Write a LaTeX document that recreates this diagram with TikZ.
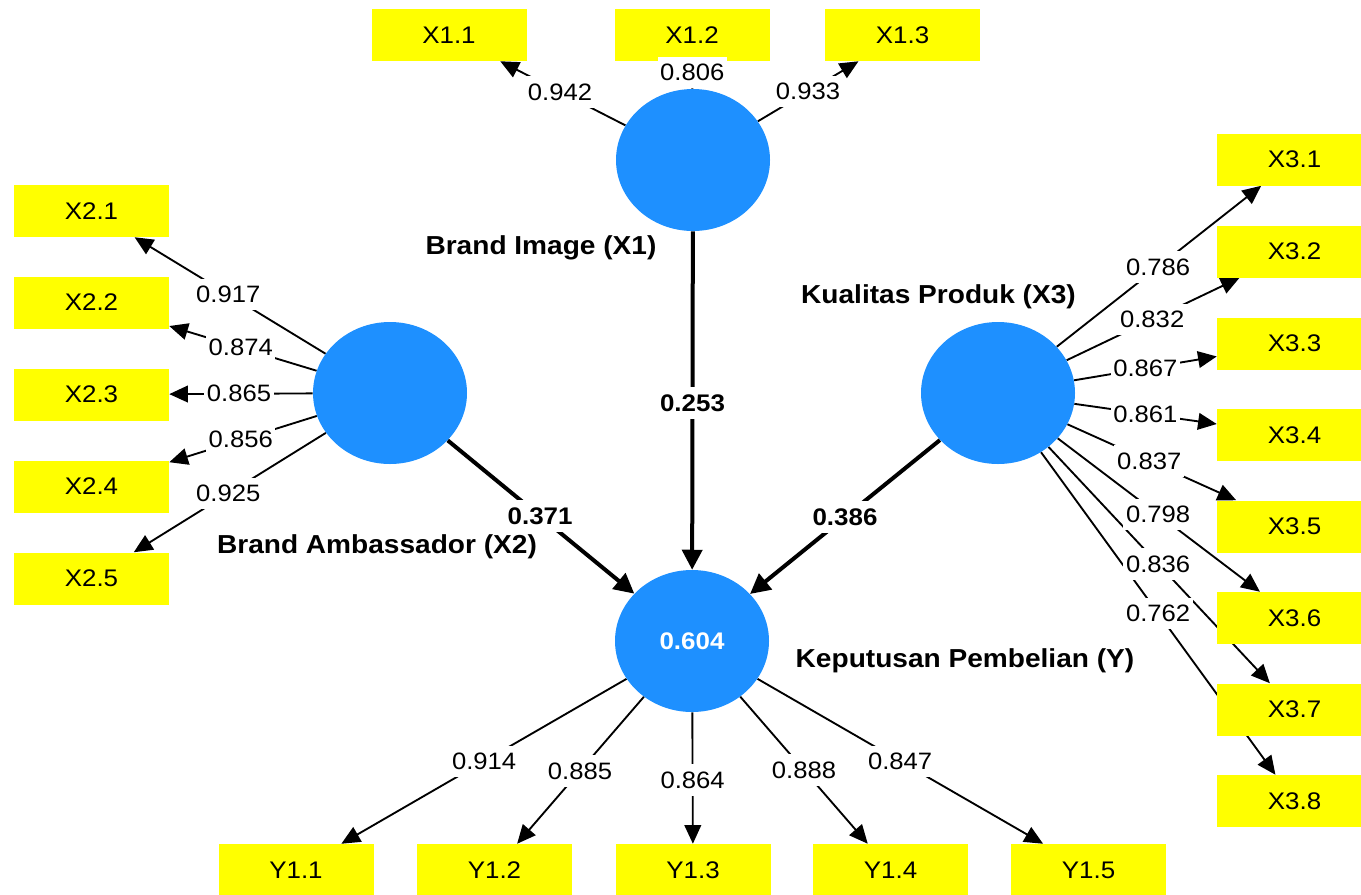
\documentclass[tikz,border=0pt]{standalone}
\usepackage{fontspec}
\setmainfont{Liberation Sans}[FakeStretch=1.08]
\usetikzlibrary{arrows.meta,shapes.geometric,backgrounds,calc}
\definecolor{lvblue}{RGB}{30,144,255}
\definecolor{indyellow}{RGB}{255,255,0}
\begin{document}
\begin{tikzpicture}[x=0.75pt,y=-0.75pt,
  ind/.style={rectangle, fill=indyellow, minimum width=116.25pt, minimum height=39pt, inner sep=0pt, font=\fontsize{18}{20}\selectfont},
  lv/.style={ellipse, fill=lvblue, minimum width=115.5pt, minimum height=106.5pt, inner sep=0pt},
  load/.style={line width=1.4pt, -{Triangle[length=14pt,width=12.5pt]}},
  pathc/.style={line width=3pt, -{Triangle[length=15pt,width=15pt]}},
  lab/.style={fill=white, inner xsep=2pt, inner ysep=5.5pt, font=\fontsize{17.8}{20}\selectfont},
  blab/.style={fill=white, inner xsep=2pt, inner ysep=5.5pt, font=\bfseries\fontsize{18}{20}\selectfont},
  lvname/.style={inner sep=0pt, font=\bfseries\fontsize{19.5}{22}\selectfont}]
\useasboundingbox (0,0) rectangle (1361,894);
% latent variables
\node[lv] (X1) at (693,160) {};
\node[lv] (X2) at (390,393) {};
\node[lv] (X3) at (998,393) {};
\node[lv, text=white, font=\bfseries\fontsize{18}{20}\selectfont] (Y) at (692,641) {0.604};
% names
\node[lvname] (nX1) at (541,248) {Brand Image (X1)};
\node[lvname] (nX2) at (377,547) {Brand Ambassador (X2)};
\node[lvname] (nX3) at (938.5,297) {Kualitas Produk (X3)};
\node[lvname] (nY) at (965,661) {Keputusan Pembelian (Y)};
% indicators
\node[ind] (X11) at (449,35) {X1.1};
\node[ind] (X12) at (692,35) {X1.2};
\node[ind] (X13) at (902.5,35) {X1.3};
\node[ind] (X21) at (91.5,211) {X2.1};
\node[ind] (X22) at (91.5,302.5) {X2.2};
\node[ind] (X23) at (91.5,394.5) {X2.3};
\node[ind] (X24) at (91.5,486.5) {X2.4};
\node[ind] (X25) at (91.5,578.5) {X2.5};
\node[ind] (X31) at (1294.5,159.5) {X3.1};
\node[ind] (X32) at (1294.5,251.5) {X3.2};
\node[ind] (X33) at (1294.5,343.5) {X3.3};
\node[ind] (X34) at (1294.5,435) {X3.4};
\node[ind] (X35) at (1294.5,526.5) {X3.5};
\node[ind] (X36) at (1294.5,618) {X3.6};
\node[ind] (X37) at (1294.5,709.5) {X3.7};
\node[ind] (X38) at (1294.5,801) {X3.8};
\node[ind] (Y11) at (296,870) {Y1.1};
\node[ind] (Y12) at (494.5,870) {Y1.2};
\node[ind] (Y13) at (693,870) {Y1.3};
\node[ind] (Y14) at (890.5,870) {Y1.4};
\node[ind] (Y15) at (1088.5,870) {Y1.5};
% connectors
\begin{scope}[on background layer]
\draw[load] (X1) -- (X11);
\draw[load] (X1) -- (X12);
\draw[load] (X1) -- (X13);
\draw[load] (X2) -- (X21);
\draw[load] (X2) -- (X22);
\draw[load] (X2) -- (X23);
\draw[load] (X2) -- (X24);
\draw[load] (X2) -- (X25);
\draw[load] (X3) -- (X31);
\draw[load] (X3) -- (X32);
\draw[load] (X3) -- (X33);
\draw[load] (X3) -- (X34);
\draw[load] (X3) -- (X35);
\draw[load] (X3) -- (X36);
\draw[load] (X3) -- (X37);
\draw[load] (X3) -- (X38);
\draw[load] (Y) -- (Y11);
\draw[load] (Y) -- (Y12);
\draw[load] (Y) -- (Y13);
\draw[load] (Y) -- (Y14);
\draw[load] (Y) -- (Y15);
\draw[pathc] (X1) -- (Y);
\draw[pathc] (X2) -- (Y);
\draw[pathc] (X3) -- (Y);
\end{scope}
% labels
\path (X1.center) -- node[lab,pos=0.545] {0.942} (X11.center);
\path (X1.center) -- node[lab,pos=0.7] {0.806} (X12.center);
\path (X1.center) -- node[lab,pos=0.549] {0.933} (X13.center);
\path (X2.center) -- node[lab,pos=0.542] {0.917} (X21.center);
\path (X2.center) -- node[lab,pos=0.5] {0.874} (X22.center);
\path (X2.center) -- node[lab,pos=0.506] {0.865} (X23.center);
\path (X2.center) -- node[lab,pos=0.5] {0.856} (X24.center);
\path (X2.center) -- node[lab,pos=0.542] {0.925} (X25.center);
\path (X3.center) -- node[lab,pos=0.54] {0.786} (X31.center);
\path (X3.center) -- node[lab,pos=0.52] {0.832} (X32.center);
\path (X3.center) -- node[lab,pos=0.497] {0.867} (X33.center);
\path (X3.center) -- node[lab,pos=0.497] {0.861} (X34.center);
\path (X3.center) -- node[lab,pos=0.51] {0.837} (X35.center);
\path (X3.center) -- node[lab,pos=0.54] {0.798} (X36.center);
\path (X3.center) -- node[lab,pos=0.54] {0.836} (X37.center);
\path (X3.center) -- node[lab,pos=0.54] {0.762} (X38.center);
\path (Y.center) -- node[lab,pos=0.525] {0.914} (Y11.center);
\path (Y.center) -- node[lab,pos=0.567] {0.885} (Y12.center);
\path (Y.center) -- node[lab,pos=0.607] {0.864} (Y13.center);
\path (Y.center) -- node[lab,pos=0.564] {0.888} (Y14.center);
\path (Y.center) -- node[lab,pos=0.525] {0.847} (Y15.center);
\path (X1.center) -- node[blab,pos=0.505] {0.253} (Y.center);
\path (X2.center) -- node[blab,pos=0.497] {0.371} (Y.center);
\path (X3.center) -- node[blab,pos=0.5] {0.386} (Y.center);
\end{tikzpicture}
\end{document}
